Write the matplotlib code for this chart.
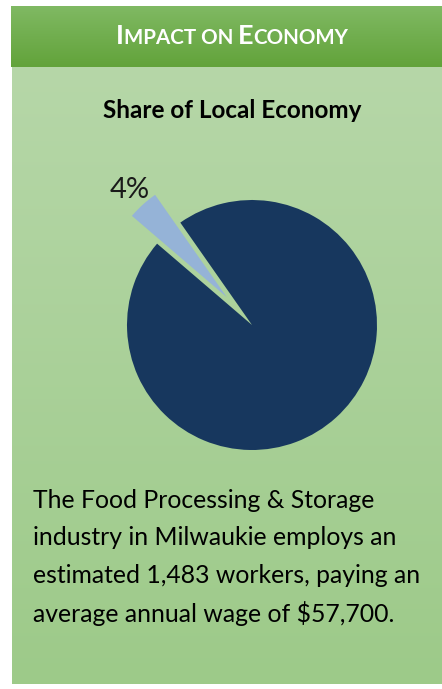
import numpy as np
import matplotlib
matplotlib.use("Agg")
import matplotlib.pyplot as plt
from matplotlib.offsetbox import TextArea, HPacker, AnnotationBbox

W, H = 442, 689
FONT = ["Lato", "DejaVu Sans"]

# data
slice_labels = ["Food Processing & Storage", "Rest of economy"]
slice_shares = [4, 96]
slice_colors = ["#95b3d7", "#17375e"]
title = "Share of Local Economy"
body_lines = [
    "The Food Processing & Storage",
    "industry in Milwaukie employs an",
    "estimated 1,483 workers, paying an",
    "average annual wage of $57,700.",
]

fig = plt.figure(figsize=(W / 100, H / 100), dpi=100)
fig.patch.set_facecolor("white")


def px(x, y):
    """pixel coords (top-left origin) -> figure fraction"""
    return x / W, 1 - y / H


def gradient_box(x0, y0, x1, y1, top, bottom):
    ax = fig.add_axes([x0 / W, 1 - y1 / H, (x1 - x0) / W, (y1 - y0) / H])
    t = np.linspace(0, 1, 256)[:, None]
    c0 = np.array(matplotlib.colors.to_rgb(top))
    c1 = np.array(matplotlib.colors.to_rgb(bottom))
    img = c0[None, None, :] * (1 - t[..., None]) + c1[None, None, :] * t[..., None]
    ax.imshow(np.repeat(img, 2, axis=1), aspect="auto", extent=[0, 1, 0, 1])
    ax.set_axis_off()
    return ax


gradient_box(12, 67, 442, 684, "#b6d7a8", "#9dca89")
hdr = gradient_box(11, 6, 442, 67, "#80b963", "#62a33a")

# header in small caps
parts = [("I", 19.5), ("MPACT ON ", 14.8), ("E", 19.5), ("CONOMY", 14.8)]
boxes = [TextArea(s, textprops=dict(color="white", fontsize=fs, fontweight="bold", family=FONT))
         for s, fs in parts]
pack = HPacker(children=boxes, align="baseline", pad=0, sep=0)
ab = AnnotationBbox(pack, px(232, 36), xycoords="figure fraction", frameon=False,
                    box_alignment=(0.5, 0.5))
fig.add_artist(ab)

fig.text(*px(232, 110), title, ha="center", va="center", fontsize=17.5,
         fontweight="bold", family=FONT, color="black")

# pie, centre at (252, 325) px, radius 125 px
R, half = 125, 200
cx, cy = 252, 325
ax = fig.add_axes([(cx - half) / W, 1 - (cy + half) / H, 2 * half / W, 2 * half / H])
ax.set_facecolor("none")
wedges, texts, autotexts = ax.pie(
    slice_shares, colors=slice_colors, startangle=125, explode=[0.3, 0],
    autopct="%d%%", pctdistance=1.16, radius=1,
    wedgeprops=dict(linewidth=0),
    textprops=dict(fontsize=21, family=FONT, fontweight="normal", color="#1a1a1a"),
)
autotexts[1].set_visible(False)
ax.set_xlim(-half / R, half / R)
ax.set_ylim(-half / R, half / R)
ax.set_aspect("equal")
ax.set_axis_off()

for i, line in enumerate(body_lines):
    fig.text(*px(33, 500 + i * 37.7), line, ha="left", va="center", fontsize=17.8,
             family=FONT, color="black")

fig.savefig("out.png", dpi=100, facecolor="white")
